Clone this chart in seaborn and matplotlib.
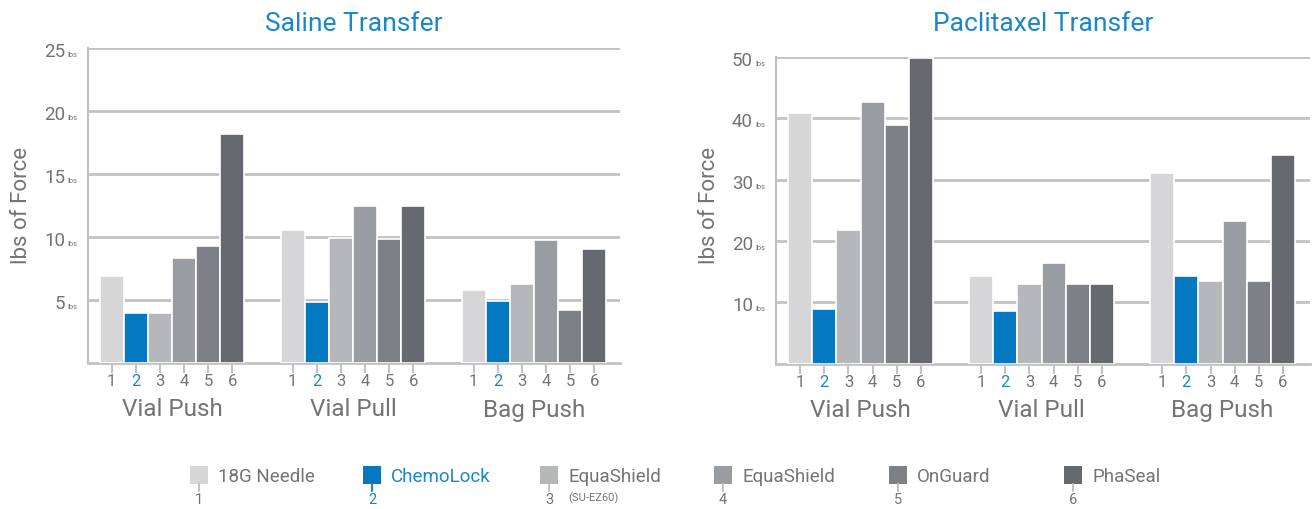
import matplotlib
matplotlib.use('Agg')
import matplotlib.pyplot as plt
import matplotlib.transforms as mtransforms
from matplotlib.patches import Rectangle
from matplotlib.lines import Line2D
import seaborn as sns
import pandas as pd

# ---------------- data ----------------
tests = ["Vial Push", "Vial Pull", "Bag Push"]
device_ids = ["1", "2", "3", "4", "5", "6"]
legend_names = ["18G Needle", "ChemoLock", "EquaShield", "EquaShield", "OnGuard", "PhaSeal"]
legend_subs = ["", "", "(SU-EZ60)", "", "", ""]

# Saline Transfer (lbs), one list per device across tests
saline_1 = [6.9, 10.55, 5.8]
saline_2 = [4.0, 4.85, 4.9]
saline_3 = [4.0, 9.9, 6.25]
saline_4 = [8.3, 12.5, 9.8]
saline_5 = [9.3, 9.85, 4.2]
saline_6 = [18.2, 12.5, 9.05]

# Paclitaxel Transfer (lbs)
pac_1 = [40.9, 14.3, 31.0]
pac_2 = [8.9, 8.6, 14.3]
pac_3 = [21.7, 12.9, 13.5]
pac_4 = [42.7, 16.4, 23.2]
pac_5 = [38.9, 12.9, 13.5]
pac_6 = [49.8, 12.9, 34.0]

saline_ticks = [5, 10, 15, 20, 25]
pac_ticks = [10, 20, 30, 40, 50]

colors = ["#d6d6d9", "#0479c1", "#b6b7bb", "#9a9ca3", "#7e8087", "#676970"]
BLUE = "#1a87c8"
GRAY_TXT = "#737478"
GRID = "#c2c2c5"
FW = "normal"

sns.set_theme(style="white")
plt.rcParams['font.family'] = ['Roboto', 'DejaVu Sans']


def make_df(series):
    rows = []
    for dev, vals in zip(device_ids, series):
        for t, v in zip(tests, vals):
            rows.append({"test": t, "device": dev, "force": v})
    return pd.DataFrame(rows)


df_saline = make_df([saline_1, saline_2, saline_3, saline_4, saline_5, saline_6])
df_pac = make_df([pac_1, pac_2, pac_3, pac_4, pac_5, pac_6])

W, H = 1315, 509
fig = plt.figure(figsize=(W / 100, H / 100), dpi=100)


def px_axes(x0, y_top, x1, y_bot):
    return fig.add_axes([x0 / W, 1 - y_bot / H, (x1 - x0) / W, (y_bot - y_top) / H])


ax1 = px_axes(88, 48, 620, 363)
ax2 = px_axes(776, 57, 1310, 363.5)


def draw(ax, df, ticks, ymax, xlim, title, ylab_x):
    sns.barplot(data=df, x="test", y="force", hue="device", order=tests,
                hue_order=device_ids, palette=colors, ax=ax, edgecolor="white",
                linewidth=1.2, legend=False, errorbar=None, saturation=1, zorder=3)
    ax.set_ylim(0, ymax)
    ax.set_xlim(*xlim)
    ax.set_xlabel("")
    ax.set_ylabel("")
    for t in ticks:
        ax.axhline(t, color=GRID, lw=2, zorder=1)
    ax.set_yticks([])
    for s in ["right", "top"]:
        ax.spines[s].set_visible(False)
    ax.spines["left"].set_color(GRID)
    ax.spines["left"].set_linewidth(1.6)
    ax.spines["bottom"].set_color(GRID)
    ax.spines["bottom"].set_linewidth(2)
    # y tick labels with small "lbs"
    ytr = ax.get_yaxis_transform()
    tr_num = mtransforms.offset_copy(ytr, fig=fig, x=-23, y=-9, units='dots')
    tr_lbs = mtransforms.offset_copy(ytr, fig=fig, x=-21, y=-9, units='dots')
    for t in ticks:
        ax.text(0, t, f"{t}", transform=tr_num, ha="right", va="baseline",
                fontsize=13.5, color=GRAY_TXT, fontweight=FW)
        ax.text(0, t, "lbs", transform=tr_lbs, ha="left", va="baseline",
                fontsize=5.5, color=GRAY_TXT)
    # x ticks under each bar
    pos, labs = [], []
    for hi, cont in enumerate(ax.containers):
        for p in cont.patches:
            pos.append(p.get_x() + p.get_width() / 2)
            labs.append(device_ids[hi])
    order = sorted(range(len(pos)), key=lambda i: pos[i])
    pos = [pos[i] for i in order]
    labs = [labs[i] for i in order]
    ax.set_xticks(pos)
    ax.set_xticklabels(labs, fontsize=12, color=GRAY_TXT, fontweight=FW)
    ax.tick_params(axis="x", direction="out", length=7, width=1.5, color=GRID, pad=1, bottom=True)
    for tk, lab in zip(ax.xaxis.get_major_ticks(), labs):
        if lab == "2":
            tk.tick1line.set_color(BLUE)
            tk.label1.set_color(BLUE)
    # group labels
    gtr = ax.get_xaxis_transform()
    gtr = mtransforms.offset_copy(gtr, fig=fig, x=0, y=-47, units='dots')
    for i, t in enumerate(tests):
        ax.text(i, 0, t, transform=gtr, ha="center", va="center", fontsize=17.5,
                color=GRAY_TXT, fontweight=FW)
    bb = ax.get_position()
    fig.text(bb.x0 + bb.width / 2, 1 - 24 / H, title, color=BLUE, fontsize=19,
             fontweight=FW, ha="center", va="center")
    fig.text(ylab_x / W, 1 - 205 / H, "lbs of Force", rotation=90,
             ha="center", va="center", fontsize=16, color=GRAY_TXT, fontweight=FW)


draw(ax1, df_saline, saline_ticks, 25, (-0.464, 2.475), "Saline Transfer", 22)
draw(ax2, df_pac, pac_ticks, 50, (-0.467, 2.483), "Paclitaxel Transfer", 710)

# ---------------- custom legend ----------------
sq_x = [190, 363, 540, 714, 889, 1064]
sq = 18
sq_top = 466
for i in range(6):
    x = sq_x[i]
    fig.patches.append(Rectangle((x / W, 1 - (sq_top + sq) / H), sq / W, sq / H,
                                 transform=fig.transFigure, facecolor=colors[i],
                                 edgecolor="none"))
    tc = BLUE if i == 1 else GRAY_TXT
    lc = BLUE if i == 1 else GRID
    fig.add_artist(Line2D([(x + sq / 2) / W] * 2, [1 - (sq_top + sq) / H, 1 - (sq_top + sq + 7) / H],
                          transform=fig.transFigure, color=lc, lw=1.5))
    fig.text((x + 28) / W, 1 - (sq_top + 11) / H, legend_names[i], ha="left", va="center",
             fontsize=13.5, color=tc, fontweight=FW)
    fig.text((x + sq / 2) / W, 1 - 507 / H, device_ids[i], ha="center", va="bottom",
             fontsize=10.5, color=tc, fontweight=FW)
    if legend_subs[i]:
        fig.text((x + 28) / W, 1 - (sq_top + 32) / H, legend_subs[i], ha="left", va="center",
                 fontsize=8, color=GRAY_TXT, fontweight=FW)

fig.savefig("out.png", dpi=100, facecolor="white")
